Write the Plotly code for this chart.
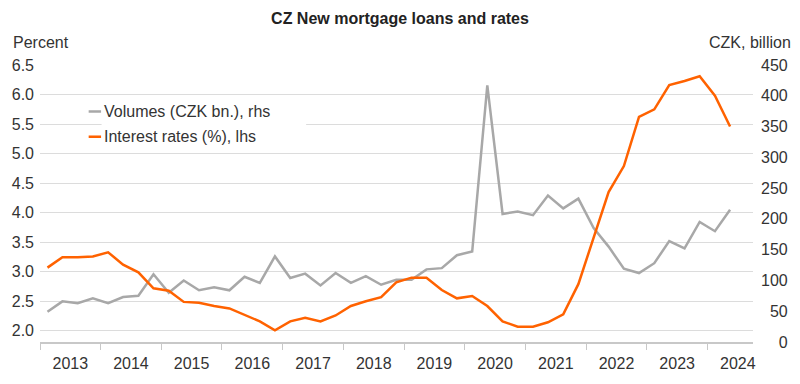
import plotly.graph_objects as go
import pandas as pd

# ---- data ----
years = list(range(2013, 2025))
quarter_mid = {1: "02-15", 2: "05-16", 3: "08-16", 4: "11-15"}
quarters = [(y, q) for y in years for q in range(1, 5)][:46]  # 2013Q1 .. 2024Q2
x_dates = [pd.Timestamp(f"{y}-{quarter_mid[q]}") for y, q in quarters]

rates = [3.07, 3.245, 3.245, 3.26, 3.33, 3.12, 2.99, 2.72, 2.68, 2.49, 2.475, 2.42,
         2.38, 2.27, 2.16, 2.01, 2.16, 2.22, 2.16, 2.26, 2.42, 2.50, 2.57, 2.82,
         2.90, 2.90, 2.69, 2.55, 2.59, 2.42, 2.16, 2.07, 2.07, 2.145, 2.28, 2.79,
         3.56, 4.35, 4.79, 5.62, 5.75, 6.16, 6.23, 6.31, 5.98, 5.46]

volumes = [49, 66, 63, 71, 63, 73, 75, 110, 80, 100, 84, 89,
           84, 106, 96, 139, 104, 111, 92, 112, 96, 107, 93, 101,
           101, 118, 120, 141, 147, 417, 208, 212, 206, 238, 217, 233,
           185, 155, 119, 112, 128, 164, 152, 195, 180, 215]

left_ticks = [2.0, 2.5, 3.0, 3.5, 4.0, 4.5, 5.0, 5.5, 6.0, 6.5]
right_ticks = [0, 50, 100, 150, 200, 250, 300, 350, 400, 450]

series_names = ["Volumes (CZK bn.), rhs", "Interest rates (%), lhs"]
title_text = "CZ New mortgage loans and rates"
left_title = "Percent"
right_title = "CZK, billion"

# ---- style ----
FONT = "Liberation Sans, Arial, Helvetica, sans-serif"
TXT = "#333333"
ORANGE = "#FF6200"
GREY = "#A8A8A8"
GRID = "#DCDCDC"
AXIS = "#C8C8C8"

fig = go.Figure()
fig.add_trace(go.Scatter(x=x_dates, y=volumes, mode="lines", name=series_names[0],
                         line=dict(color=GREY, width=2.5), yaxis="y"))
fig.add_trace(go.Scatter(x=x_dates, y=rates, mode="lines", name=series_names[1],
                         line=dict(color=ORANGE, width=2.5), yaxis="y2"))

L, R, T, B = 38, 44, 65, 39
W, H = 800, 384
pw, ph = W - L - R, H - T - B


def px_x(px):
    return (px - L) / pw


def px_y(py):
    return (H - B - py) / ph


fig.update_layout(
    width=W, height=H,
    margin=dict(l=L, r=R, t=T, b=B, pad=0),
    paper_bgcolor="white", plot_bgcolor="white",
    showlegend=False,
    font=dict(family=FONT, size=16, color=TXT),
    title=dict(text="<b>" + title_text + "</b>", x=0.5, xref="container", xanchor="center",
               y=1 - 18 / H, yref="container", yanchor="middle",
               font=dict(family=FONT, size=16, color="#222222")),
    xaxis=dict(type="date", range=["2013-01-01", "2024-10-01"],
               tick0="2013-01-01", dtick="M12", tickformat="%Y", ticklabelmode="period",
               ticks="outside", ticklen=6, tickwidth=1, tickcolor=AXIS,
               showline=True, linecolor=AXIS, linewidth=2,
               showgrid=False, zeroline=False,
               tickfont=dict(family=FONT, size=16, color=TXT)),
    yaxis=dict(side="right", range=[0, 450], tickmode="array", tickvals=right_ticks,
               ticktext=[f"{v:>3}".replace(" ", "\u2007") for v in right_ticks],
               showgrid=False, zeroline=False, ticks="", showline=False,
               ticklabelstandoff=7,
               tickfont=dict(family=FONT, size=16, color=TXT)),
    yaxis2=dict(side="left", overlaying="y", range=[1.811, 6.5], tickmode="array",
                tickvals=left_ticks, ticktext=[f"{v:.1f}" for v in left_ticks],
                showgrid=True, gridcolor=GRID, gridwidth=1, zeroline=False, ticks="",
                showline=False, ticklabelstandoff=5,
                tickfont=dict(family=FONT, size=16, color=TXT)),
)

# axis titles
fig.add_annotation(text=left_title, xref="paper", yref="paper", x=px_x(9), y=px_y(42),
                   xanchor="left", yanchor="middle", showarrow=False,
                   font=dict(family=FONT, size=16, color=TXT))
fig.add_annotation(text=right_title, xref="paper", yref="paper", x=px_x(796), y=px_y(42),
                   xanchor="right", yanchor="middle", showarrow=False,
                   font=dict(family=FONT, size=16, color=TXT))

# custom legend (white box, short line keys, labels)
fig.add_shape(type="rect", xref="paper", yref="paper", x0=px_x(100), x1=px_x(306),
              y0=px_y(150), y1=px_y(100), fillcolor="white", line=dict(width=0), layer="above")
for name, color, py in [(series_names[0], GREY, 112), (series_names[1], ORANGE, 137.5)]:
    fig.add_shape(type="line", xref="paper", yref="paper", x0=px_x(87), x1=px_x(99.5),
                  y0=px_y(py), y1=px_y(py), line=dict(color=color, width=2.5), layer="above")
    fig.add_annotation(text=name, xref="paper", yref="paper", x=px_x(100), y=px_y(py),
                       xanchor="left", yanchor="middle", showarrow=False,
                       font=dict(family=FONT, size=16, color=TXT))

fig.write_html("out.html", config={"displayModeBar": False},
               post_script="document.body.style.margin='0';")
